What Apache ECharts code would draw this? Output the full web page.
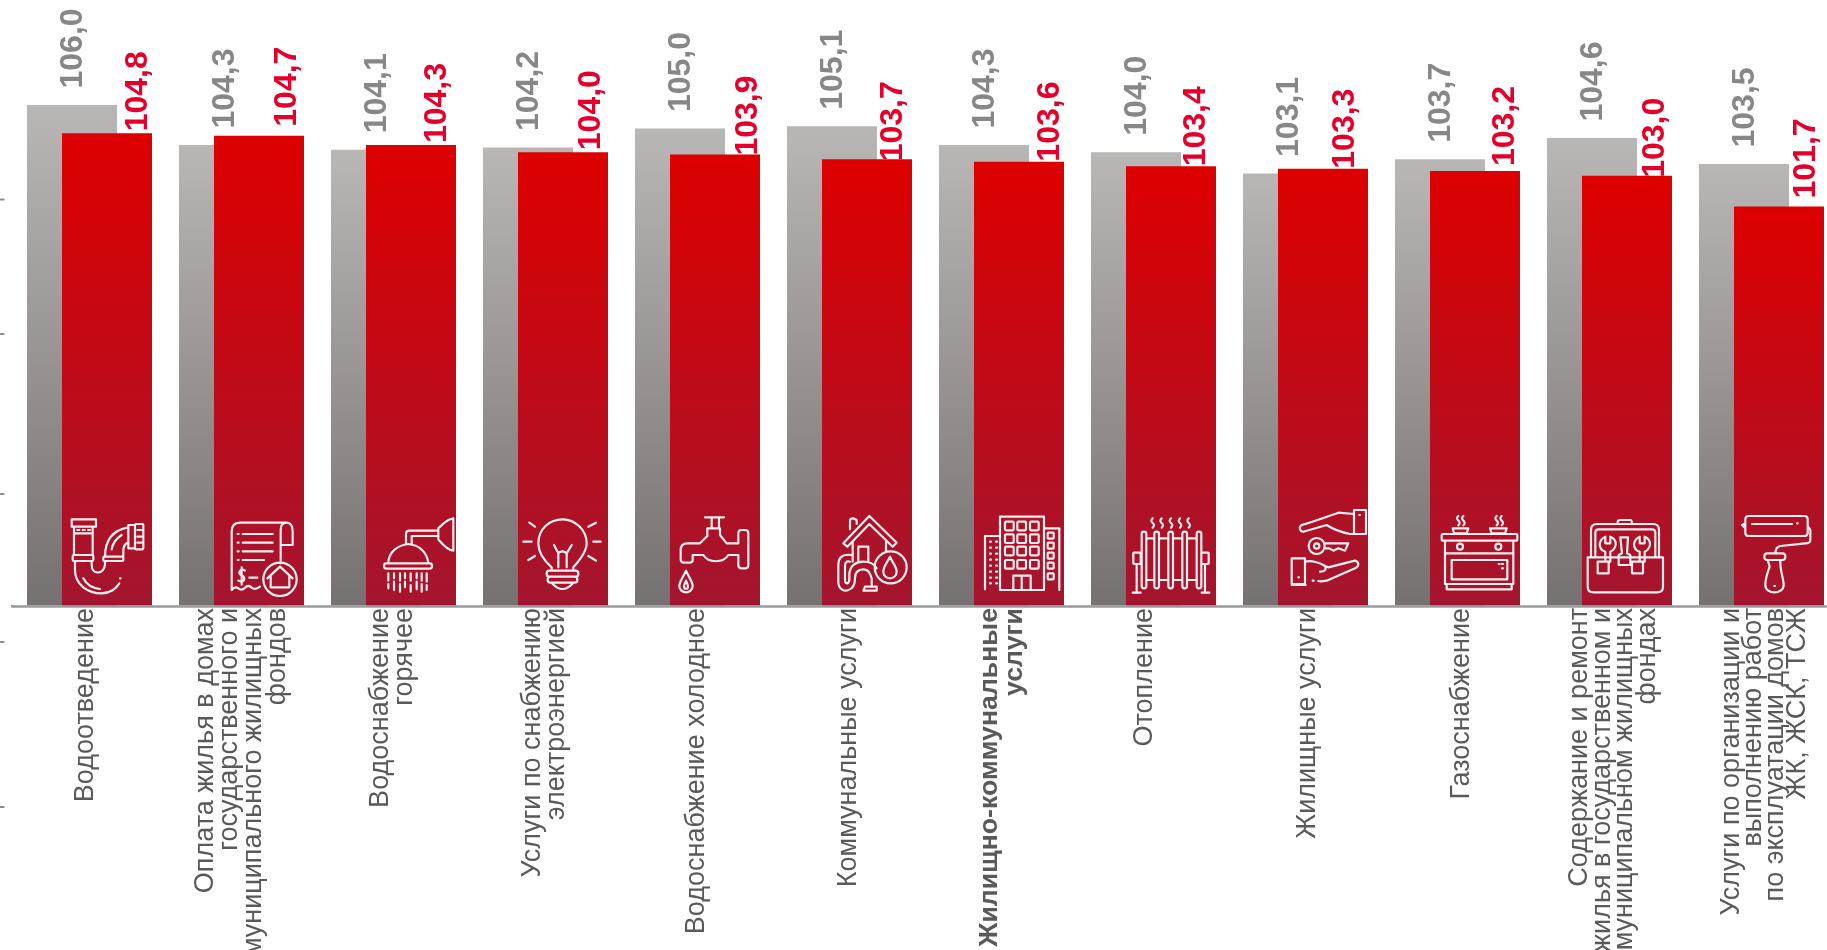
<!DOCTYPE html>
<html><head><meta charset="utf-8">
<style>html,body{margin:0;padding:0;background:#fff;overflow:hidden}#c{width:1827px;height:950px}</style>
<script src="https://cdn.jsdelivr.net/npm/echarts@6/dist/echarts.min.js"></script>
</head><body><div id="c"></div>
<script>
const categories = [
  "Водоотведение",
  "Оплата жилья в домах\nгосударственного и\nмуниципального жилищных\nфондов",
  "Водоснабжение\nгорячее",
  "Услуги по снабжению\nэлектроэнергией",
  "Водоснабжение холодное",
  "Коммунальные услуги",
  "Жилищно-коммунальные\nуслуги",
  "Отопление",
  "Жилищные услуги",
  "Газоснабжение",
  "Содержание и ремонт\nжилья в государственном и\nмуниципальном жилищных\nфондах",
  "Услуги по организации и\nвыполнению работ\nпо эксплуатации домов\nЖК, ЖСК, ТСЖ"
];
const prevYear = [106.0,104.3,104.1,104.2,105.0,105.1,104.3,104.0,103.1,103.7,104.6,103.5];
const currYear = [104.8,104.7,104.3,104.0,103.9,103.7,103.6,103.4,103.3,103.2,103.0,101.7];
const boldCategory = 6;
const yMin = 84.8, yMax = 110;
// hand placement of the labels, as in the source slide
const redLabelDx  = [31,28,26,28,33,26,31,25,22,30,28,27];
const redLabelGap = [2,9,2,2,-1,-2,0,0,0,5,-2,8];
const catLabelDx = [-4,0,-1,-1,-1,-1,1,-9,2,4,4,3];
const catLineHeight = [24,23.7,23.5,23.5,24,24,25,24,24,24,22.5,21.8];
const leftTicks = [199.5,334,494,642,807];

/* ---- icon drawing helpers (local units = 3 × px) ---- */
const c=(x,y,r)=>`M${x-r} ${y}a${r} ${r} 0 1 0 ${2*r} 0a${r} ${r} 0 1 0 ${-2*r} 0Z`;
const R=(a,b,x,y,q=0)=>q?`M${a+q} ${b}L${x-q} ${b}Q${x} ${b} ${x} ${b+q}L${x} ${y-q}Q${x} ${y} ${x-q} ${y}L${a+q} ${y}Q${a} ${y} ${a} ${y-q}L${a} ${b+q}Q${a} ${b} ${a+q} ${b}Z`:`M${a} ${b}L${x} ${b}L${x} ${y}L${a} ${y}Z`;
const S=(x,y)=>`M${x} ${y}q-8 7 0 14q8 7 0 14`;
function many(fn,xs,ys){let s='';xs.forEach(x=>ys.forEach(y=>s+=fn(x,y)));return s;}
const wrench=d=>`M${68+d} 102C${70+d} 90 ${76+d} 84 ${85+d} 80L${85+d} 100L${100+d} 100L${100+d} 80C${110+d} 84 ${117+d} 92 ${116+d} 104C${114+d} 116 ${107+d} 122 ${100+d} 125L${100+d} 155L${85+d} 155L${85+d} 125C${75+d} 122 ${68+d} 114 ${68+d} 102Z`+R(62+d,155,95+d,190);
const iconPaths = [
 R(35,28,108,50)+R(42,50,98,70)+R(42,70,98,135)+R(38,135,100,153,4)+'M52 60h6M68 60h6M84 60h6'+
 'M45 153L45 180C45 225 85 250 125 250C150 250 170 235 178 220M95 153L95 165C95 195 130 195 135 165L135 153'+R(130,140,190,153,3)+
 'M135 140C135 90 160 60 205 52M190 140L190 125C190 110 195 100 205 98'+R(205,45,225,115)+R(225,42,250,118,3)+'M232 60h12M232 80h12M232 98h12'+
 'M155 118C158 100 170 85 185 75M70 205C80 225 100 235 120 237M180 205h2',
 'M515 240L515 65C515 45 525 38 540 38L680 38C695 38 698 50 698 65L698 105L662 105L662 60C662 45 670 38 680 38M662 105L662 160'+
 'M515 240q10-12 20-5q10 8 20-2q10-10 20 0q10 8 25-3'+
 'M548 72L638 72M548 98L638 98M548 124L638 124M548 150L612 150M533 72h3M533 98h3M533 124h3M533 150h3'+
 'M555 182C542 172 530 190 545 196C560 202 552 222 535 212M545 172L545 224M568 203L592 203'+
 c(660,208,50)+'M622 205L660 170L698 205M632 198L632 232L688 232L688 198',
 'M108 100L108 72Q108 62 118 62L205 62M125 100L125 78L205 78'+
 'M205 55C215 45 230 28 250 25L250 122C230 120 215 100 205 88Z'+
 'M55 160C55 125 85 105 115 102C150 105 172 130 175 160'+R(42,160,186,176,7)+
 'M55 190V212M55 222V235M72 190V205M72 215V240M90 190V212M90 222V245M105 190V205M105 215V232M122 190V212M122 225V245M140 190V205M140 215V238M155 190V212M155 222V245M170 190V215M170 225V240',
 'M545 172C520 150 505 125 505 100C505 55 540 28 578 28C615 28 650 60 650 100C650 125 630 150 610 172L610 182L545 182Z'+
 'M552 105L565 130L565 172M605 105L590 130L590 172M565 130Q577 118 590 130'+
 R(530,182,625,200,8)+R(533,200,622,218,8)+'M548 222Q577 252 607 222'+
 'M460 95L485 95M478 38L495 50M670 95L692 95M655 50L678 38M475 150L495 138M655 138L678 152',
 'M105 22L162 22M125 22L125 55M147 22L147 55M112 55L150 55L150 75L170 100L205 100L205 70Q205 60 215 60L225 60Q235 60 235 70L235 165Q235 175 225 175L215 175Q205 175 205 165L205 135L175 135C160 160 115 160 100 135L68 135L68 150Q68 158 58 158L42 158Q32 158 32 148L32 120Q32 100 52 100L90 100L112 78L112 55Z'+
 'M48 182C38 205 28 215 28 228C28 240 38 247 48 247C58 247 68 240 68 228C68 215 58 205 48 182ZM48 212C44 220 42 224 42 230C42 234 45 236 48 236C51 236 54 234 54 230C54 224 52 220 48 212Z',
 'M520 100L598 18L680 98L668 110L598 42L532 110ZM540 58L540 32Q540 25 550 25L560 30L560 42M548 95L548 155M648 95L648 125M565 155L565 110L595 110L595 155'+
 c(662,172,48)+'M660 140C650 160 640 170 640 185C640 197 650 205 660 205C670 205 680 197 680 185C680 170 668 160 660 140Z'+
 'M545 135C510 130 505 150 505 165L505 215C505 240 525 245 535 240C555 235 555 215 555 205C555 185 565 178 580 178C595 178 600 190 605 205L605 225'+
 'M540 155C525 150 525 165 525 170L525 210C525 222 535 225 538 210L538 195C538 165 560 155 580 155C600 155 610 160 620 175M585 230L620 230L620 242L580 242Z',
 R(90,20,222,240)+many((x,y)=>R(x,y,x+26,y+26,3),[105,142,180],[35,73,110,150])+'M130 240L130 197L182 197L182 240M155 197L155 240'+
 'M90 78L45 78L45 238M222 55L268 55L268 240'+many((x,y)=>`M${x} ${y}h3`,[60,78],[95,113,131,149,167,185,203,220])+
 many((x,y)=>R(x,y,x+18,y+18,2),[233],[68,98,128,158,190]),
 [548,575,603,630,656].map(x=>S(x,25)).join('')+
 [515,553,595,637,680].map(x=>R(x,65,x+14,235,7)).join('')+
 'M529 85H553M567 85H595M609 85H637M651 85H680M529 210H553M567 210H595M609 210H637M651 210H680'+
 R(490,128,512,162,2)+R(694,128,716,162,2)+'M500 162L500 248M705 162L705 248M488 248L512 248M695 248L718 248',
 R(252,0,288,72)+'M252 12L205 8C170 20 130 35 95 45C85 52 90 65 100 65L170 45C185 55 205 65 240 72L252 72'+'M268 15h2'+
 c(140,108,24)+c(140,108,8)+'M164 100L235 100L225 122L205 115L190 122L178 115L164 115'+
 R(65,145,105,222)+'M65 225L107 225M105 155C125 150 150 158 165 168L175 172L255 152C268 155 268 170 255 175L170 212C155 215 150 215 145 213M165 168C170 178 165 185 150 185M128 212h3M85 202h2',
 S(565,18)+S(580,18)+S(680,18)+S(695,18)+'M548 55L595 55L590 70L552 70ZM660 55L710 55L705 70L665 70Z'+
 R(515,72,742,92,3)+R(525,92,730,222)+'M525 130L730 130'+c(570,110,9)+c(685,110,9)+R(545,150,712,208)+'M686 162h3M696 162h3M696 175h3'+R(530,222,725,238),
 'M122 42L122 35Q122 30 130 30L160 30Q165 30 165 42M42 142L42 60Q42 42 60 42L228 42Q246 42 246 60L246 142M55 142L55 68Q55 58 65 58L225 58Q235 58 235 68L235 142'+
 'M32 142L258 142L258 230Q258 247 240 247L50 247Q32 247 32 230Z'+wrench(0)+wrench(103)+
 'M130 82L153 82L150 130L160 135L160 165L125 165L125 135L135 130Z',
 R(505,18,692,78,10)+'M525 42L645 42M660 40h2M505 40L495 45L505 55M692 50Q702 55 700 70L700 90Q700 100 685 100L610 108Q595 112 595 130'+
 R(562,130,625,150,9)+'M572 150L578 170Q565 205 565 225C565 240 580 247 592 247C605 247 620 240 620 225C620 205 608 180 610 150M592 228h2'
];
// left edge of each red bar inside its drawing frame
const iconBarLeft = [6,462,-12,444,0,456,12,468,24,480,15,471];

const fmt = v => v.toFixed(1).replace('.', ',');
const gradient = (a,b)=>({type:'linear',x:0,y:0,x2:0,y2:1,colorStops:[{offset:0,color:a},{offset:1,color:b}]});
const FONT = '"Liberation Sans", Arial, sans-serif';
const chart = echarts.init(document.getElementById('c'));
const BAR = 90, OFFSET = 27.5, GRID_LEFT = 13.5;

chart.setOption({
  animation:false,
  backgroundColor:'#fff',
  grid:{left:GRID_LEFT,top:10.6,width:1824,height:594.7,containLabel:false,outerBoundsMode:'none'},
  xAxis:{type:'category',data:categories,offset:1,
    axisTick:{show:false},
    axisLine:{show:true,lineStyle:{color:'#9c9c9c',width:2.5}},
    axisLabel:{show:false}
  },
  yAxis:{type:'value',min:yMin,max:yMax,show:false,splitLine:{show:false}},
  graphic:[
    ...leftTicks.map(y=>({type:'rect',shape:{x:0,y:y-1,width:4.5,height:2},style:{fill:'#8c8c8c'},silent:true})),
    {type:'rect',shape:{x:11,y:605,width:4,height:2.5},style:{fill:'#9c9c9c'},silent:true}
  ],
  series:[
    {type:'bar',name:'prev',barWidth:BAR,barGap:'-61.1%',
     itemStyle:{color:gradient('#b9b7b5','#757170')},
     label:{show:true,position:'top',distance:0,rotate:90,align:'left',verticalAlign:'middle',
       offset:[16.5,1],fontFamily:FONT,fontSize:32,fontWeight:'bold',color:'#878787',
       formatter:p=>fmt(p.value)},
     data:prevYear},
    {type:'bar',name:'curr',barWidth:BAR,
     itemStyle:{color:gradient('#dd0000','#a3152f')},
     label:{show:true,position:'top',distance:0,rotate:90,align:'left',verticalAlign:'middle',
       fontFamily:FONT,fontSize:32,fontWeight:'bold',color:'#e4002b',
       formatter:p=>fmt(p.value)},
     data:currYear.map((v,i)=>({value:v,label:{offset:[redLabelGap[i],redLabelDx[i]]}}))},
    {type:'custom',silent:true,z:5,
     data:categories.map((_,i)=>[i,yMin]),
     encode:{x:0,y:1},
     renderItem:(params,api)=>{
       const i=api.value(0), p=api.coord([i,yMin]);
       return {type:'group',silent:true,children:[
        {type:'path',silent:true,
         x:p[0]-OFFSET-iconBarLeft[i]/3, y:p[1]-95.3, scaleX:1/3, scaleY:1/3,
         shape:{pathData:iconPaths[i]},
         style:{fill:'none',stroke:'#fbeef0',lineWidth:6.5,lineCap:'round',lineJoin:'round'}},
        {type:'text',silent:true,
         x:p[0]+catLabelDx[i], y:p[1]+2.7, rotation:Math.PI/2,
         style:{text:categories[i],fill:'#595959',fontFamily:FONT,
           fontSize:i===boldCategory?26.7:27,fontWeight:i===boldCategory?'bold':'normal',
           lineHeight:catLineHeight[i],align:'right',verticalAlign:'middle'}}
       ]};
     }}
  ]
});
</script></body></html>
